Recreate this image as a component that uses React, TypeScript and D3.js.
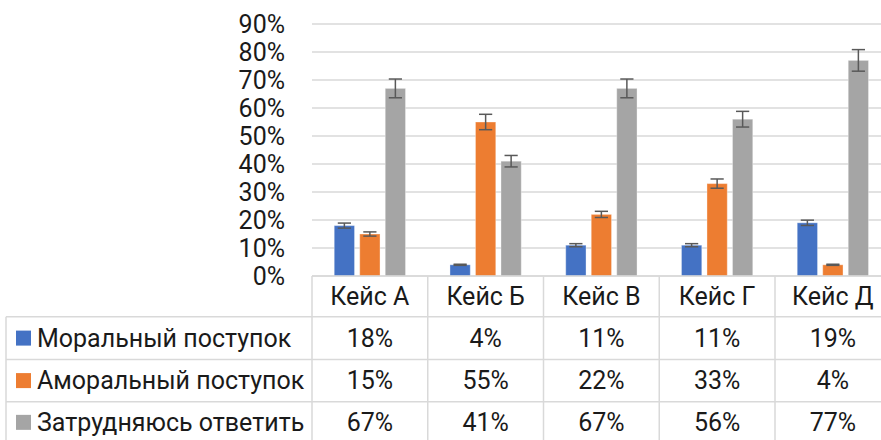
import React from "react";
import * as d3 from "d3";

const categories = ["Кейс А", "Кейс Б", "Кейс В", "Кейс Г", "Кейс Д"];
const seriesNames = ["Моральный поступок", "Аморальный поступок", "Затрудняюсь ответить"];
const moral = [18, 4, 11, 11, 19];
const amoral = [15, 55, 22, 33, 4];
const unsure = [67, 41, 67, 56, 77];
const seriesValues = [moral, amoral, unsure];
const yTicks = [0, 10, 20, 30, 40, 50, 60, 70, 80, 90];
const errorPercent = 0.05; // Excel "percentage" error bars
const colors = ["#4472C4", "#ED7D31", "#A5A5A5"];

const W = 881;
const H = 440;
const FONT = "Roboto, 'Noto Sans', sans-serif";
const FS = 25;

export default function App() {
  const plotLeft = 312;
  const colStep = 115.75;
  const x = d3
    .scaleBand<string>()
    .domain(categories)
    .range([plotLeft, plotLeft + colStep * categories.length])
    .padding(0);
  const inner = d3
    .scaleBand<string>()
    .domain(seriesNames)
    .range([-35.65, 35.65])
    .paddingInner(0.204)
    .paddingOuter(0);
  const y = d3.scaleLinear().domain([0, 90]).range([276, 24]);

  const headerTop = 276;
  const rowLines = [316.7, 359.5, 401.7, 443];
  const tableLeft = 6;
  const grid = "#D9D9D9";

  return (
    <svg width={W} height={H} style={{ position: "absolute", left: 0, top: 0, background: "#fff" }} fontFamily={FONT}>
      <rect x={0} y={0} width={W} height={H} fill="#fff" />
      {/* gridlines */}
      {yTicks.map((t) => (
        <line key={"g" + t} x1={plotLeft} x2={W} y1={y(t)} y2={y(t)} stroke={grid} strokeWidth={1.5} />
      ))}
      {/* y tick labels */}
      {yTicks.map((t) => (
        <text key={"yt" + t} x={285} y={y(t)} textAnchor="end" dominantBaseline="central" fontSize={FS} fill="#1a1a1a">
          {t}%
        </text>
      ))}
      {/* bars */}
      {seriesValues.map((vals, si) =>
        vals.map((v, ci) => {
          const cx = x(categories[ci])! + x.bandwidth() / 2;
          const bx = cx + inner(seriesNames[si])!;
          return (
            <rect
              key={`b${si}-${ci}`}
              x={bx}
              y={y(v)}
              width={inner.bandwidth()}
              height={y(0) - y(v)}
              fill={colors[si]}
              stroke="#ffffff"
              strokeOpacity={0.35}
              strokeWidth={1}
            />
          );
        })
      )}
      {/* error bars */}
      {seriesValues.map((vals, si) =>
        vals.map((v, ci) => {
          const cx = x(categories[ci])! + x.bandwidth() / 2 + inner(seriesNames[si])! + inner.bandwidth() / 2;
          const e = v * errorPercent;
          const yt = y(v + e);
          const yb = y(v - e);
          return (
            <g key={`e${si}-${ci}`} stroke="#595959" strokeWidth={1.5}>
              <line x1={cx} x2={cx} y1={yt} y2={yb} />
              <line x1={cx - 6.6} x2={cx + 6.6} y1={yt} y2={yt} />
              <line x1={cx - 6.6} x2={cx + 6.6} y1={yb} y2={yb} />
            </g>
          );
        })
      )}
      {/* table lines */}
      <line x1={plotLeft} x2={W} y1={headerTop} y2={headerTop} stroke={grid} strokeWidth={1.5} />
      {rowLines.map((ry, i) => (
        <line key={"rl" + i} x1={tableLeft} x2={W} y1={ry} y2={ry} stroke={grid} strokeWidth={1.5} />
      ))}
      <line x1={tableLeft} x2={tableLeft} y1={rowLines[0]} y2={H} stroke={grid} strokeWidth={1.5} />
      {categories.map((c) => (
        <line key={"vl" + c} x1={x(c)!} x2={x(c)!} y1={headerTop} y2={H} stroke={grid} strokeWidth={1.5} />
      ))}
      {/* header */}
      {categories.map((c) => (
        <text key={"h" + c} x={x(c)! + x.bandwidth() / 2} y={(headerTop + rowLines[0]) / 2} textAnchor="middle" dominantBaseline="central" fontSize={FS} fill="#1a1a1a">
          {c}
        </text>
      ))}
      {/* rows */}
      {seriesNames.map((s, si) => {
        const cy = (rowLines[si] + rowLines[si + 1]) / 2;
        return (
          <g key={"r" + s}>
            <rect x={16} y={cy - 7.5} width={15} height={15} fill={colors[si]} />
            <text x={37} y={cy} dominantBaseline="central" fontSize={FS} fill="#1a1a1a">
              {s}
            </text>
            {seriesValues[si].map((v, ci) => (
              <text key={"v" + ci} x={x(categories[ci])! + x.bandwidth() / 2} y={cy} textAnchor="middle" dominantBaseline="central" fontSize={FS} fill="#1a1a1a">
                {v}%
              </text>
            ))}
          </g>
        );
      })}
    </svg>
  );
}
